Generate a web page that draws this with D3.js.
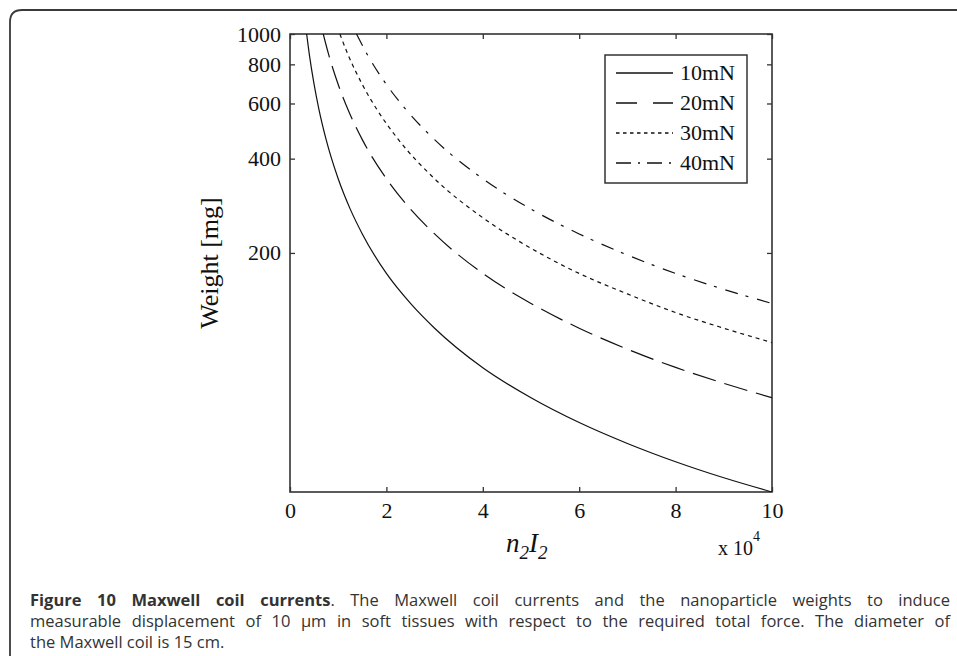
<!DOCTYPE html>
<html>
<head>
<meta charset="utf-8">
<script src="https://cdn.jsdelivr.net/npm/d3@7"></script>
<style>
  body { margin: 0; background: #fff; }
</style>
</head>
<body>
<script>
var svgWidth = 957;
var svgHeight = 656;

var margin = {
  top: 34,
  right: 185,
  bottom: 164,
  left: 290
};
var width = svgWidth - margin.left - margin.right;
var height = svgHeight - margin.top - margin.bottom;

// values (x in units of 10^4, weight in mg)
var forceNames = ["10mN", "20mN", "30mN", "40mN"];
var current10 = [0.345, 0.4, 0.5, 0.6, 0.75, 1, 1.25, 1.5, 2, 2.5, 3, 4, 5, 6, 7, 8, 9, 10];
var weight10  = [1000, 862, 690, 575, 460, 345, 276, 230, 172, 138, 115, 86, 69, 57.5, 49.3, 43.1, 38.3, 34.5];
var current20 = [0.69, 0.8, 1, 1.2, 1.5, 2, 2.5, 3, 4, 5, 6, 7, 8, 9, 10];
var weight20  = [1000, 862, 690, 575, 460, 345, 276, 230, 172, 138, 115, 98.6, 86.2, 76.7, 69];
var current30 = [1.035, 1.2, 1.5, 1.8, 2.25, 3, 4, 5, 6, 7, 8, 9, 10];
var weight30  = [1000, 862, 690, 575, 460, 345, 259, 207, 172, 148, 129, 115, 103.5];
var current40 = [1.38, 1.6, 2, 2.4, 3, 4, 5, 6, 7, 8, 9, 10];
var weight40  = [1000, 862, 690, 575, 460, 345, 276, 230, 197, 172, 153, 138];

var xTicks = [0, 2, 4, 6, 8, 10];
var yTicks = [200, 400, 600, 800, 1000];

var captionBold = "Figure 10 Maxwell coil currents";
var captionLines = [
  ". The Maxwell coil currents and the nanoparticle weights to induce",
  "measurable displacement of 10 \u03bcm in soft tissues with respect to the required total force. The diameter of",
  "the Maxwell coil is 15 cm."
];

var series = [
  {name: forceNames[0], x: current10, y: weight10, dash: null, legendDash: null},
  {name: forceNames[1], x: current20, y: weight20, dash: "24,9", legendDash: "21,16"},
  {name: forceNames[2], x: current30, y: weight30, dash: "4,4", legendDash: "3.5,3.5"},
  {name: forceNames[3], x: current40, y: weight40, dash: "13,8,3,9", legendDash: "15,7,2,7"}
];

var serif = "'Liberation Serif', 'DejaVu Serif', serif";

var svg = d3.select("body")
  .append("svg")
  .attr("width", svgWidth)
  .attr("height", svgHeight);

// rounded frame of the figure panel
svg.append("path")
  .attr("d", "M10,660 V22 Q10,10 22,10 H960")
  .attr("fill", "none")
  .attr("stroke", "#3a3a3a")
  .attr("stroke-width", 1.8);

var plotParams = svg.append("g")
  .attr("transform", `translate(${margin.left}, ${margin.top})`);

var xScale = d3.scaleLinear().domain([0, 10]).range([0, width]);
var yScale = d3.scaleLog().domain([34.5, 1000]).range([height, 0]);

plotParams.append("defs").append("clipPath")
  .attr("id", "plotClip")
  .append("rect")
  .attr("width", width)
  .attr("height", height);

var xAxis = d3.axisBottom(xScale).tickValues(xTicks).tickSizeInner(-5).tickSizeOuter(0).tickPadding(10);
var yAxis = d3.axisLeft(yScale).tickValues(yTicks).tickFormat(d3.format("d")).tickSizeInner(-5).tickSizeOuter(0).tickPadding(9);
var xTop = d3.axisTop(xScale).tickValues(xTicks).tickFormat("").tickSizeInner(-5).tickSizeOuter(0);
var yRight = d3.axisRight(yScale).tickValues(yTicks).tickFormat("").tickSizeInner(-5).tickSizeOuter(0);

plotParams.append("g").attr("class", "axis")
  .attr("transform", `translate(0, ${height})`)
  .call(xAxis);
plotParams.append("g").attr("class", "axis")
  .call(yAxis);
plotParams.append("g").attr("class", "axis")
  .call(xTop);
plotParams.append("g").attr("class", "axis")
  .attr("transform", `translate(${width}, 0)`)
  .call(yRight);

plotParams.selectAll(".axis .domain").remove();
plotParams.selectAll(".axis line")
  .attr("stroke", "#333")
  .attr("stroke-width", 1.3);
plotParams.selectAll(".axis text")
  .attr("fill", "#111")
  .style("font-family", serif)
  .style("font-size", "22px");

plotParams.append("rect")
  .attr("width", width)
  .attr("height", height)
  .attr("fill", "none")
  .attr("stroke", "#333")
  .attr("stroke-width", 1.6);

var line = d3.line()
  .x(d => xScale(d[0]))
  .y(d => yScale(d[1]))
  .curve(d3.curveMonotoneX);

plotParams.append("g")
  .attr("clip-path", "url(#plotClip)")
  .selectAll("path")
  .data(series)
  .enter()
  .append("path")
  .attr("d", s => line(s.x.map((v, i) => [v, s.y[i]])))
  .attr("fill", "none")
  .attr("stroke", "#111")
  .attr("stroke-width", 1.2)
  .attr("stroke-dasharray", s => s.dash);

// legend
var legend = svg.append("g").attr("transform", "translate(605, 55)");
legend.append("rect")
  .attr("width", 142)
  .attr("height", 128)
  .attr("fill", "#fff")
  .attr("stroke", "#333")
  .attr("stroke-width", 1.5);

var rows = legend.selectAll("g.row")
  .data(series)
  .enter()
  .append("g")
  .attr("class", "row")
  .attr("transform", (d, i) => `translate(0, ${18 + i * 30})`);

rows.append("line")
  .attr("x1", 11)
  .attr("x2", 68)
  .attr("stroke", "#111")
  .attr("stroke-width", 1.3)
  .attr("stroke-dasharray", d => d.legendDash);

rows.append("text")
  .attr("x", 75)
  .attr("dy", "0.33em")
  .attr("fill", "#111")
  .style("font-family", serif)
  .style("font-size", "22px")
  .text(d => d.name);

// axis titles
svg.append("text")
  .attr("transform", "translate(218, 263) rotate(-90)")
  .attr("text-anchor", "middle")
  .attr("fill", "#111")
  .style("font-family", serif)
  .style("font-size", "26px")
  .text("Weight [mg]");

var xLabel = svg.append("text")
  .attr("x", 506)
  .attr("y", 552)
  .attr("fill", "#111")
  .style("font-family", serif)
  .style("font-size", "27px")
  .style("font-style", "italic");
xLabel.append("tspan").text("n");
xLabel.append("tspan").attr("dy", 7).style("font-size", "19px").text("2");
xLabel.append("tspan").attr("dy", -7).text("I");
xLabel.append("tspan").attr("dy", 7).style("font-size", "19px").text("2");

var expLabel = svg.append("text")
  .attr("x", 718)
  .attr("y", 555)
  .attr("fill", "#111")
  .style("font-family", serif)
  .style("font-size", "20px");
expLabel.append("tspan").text("x 10");
expLabel.append("tspan").attr("dy", -14).style("font-size", "14px").text("4");

// caption, justified like the journal layout
var capLeft = 30, capRight = 950;
var capBase = [606, 627, 648];
var capFont = "'Open Sans', 'Noto Sans', sans-serif";

var capGroup = svg.append("g")
  .attr("fill", "#333")
  .style("font-family", capFont)
  .style("font-size", "16.5px");

captionLines.forEach(function(txt, i) {
  var t = capGroup.append("text")
    .attr("x", capLeft)
    .attr("y", capBase[i]);
  if (i === 0) {
    t.append("tspan").style("font-weight", "bold").text(captionBold);
  }
  t.append("tspan").text(txt);
  if (i < 2) {
    var full = (i === 0 ? captionBold : "") + txt;
    var spaces = full.split(" ").length - 1;
    var natural = t.node().getComputedTextLength();
    var extra = (capRight - capLeft - natural) / spaces;
    t.attr("word-spacing", extra);
  }
});
</script>
</body>
</html>
